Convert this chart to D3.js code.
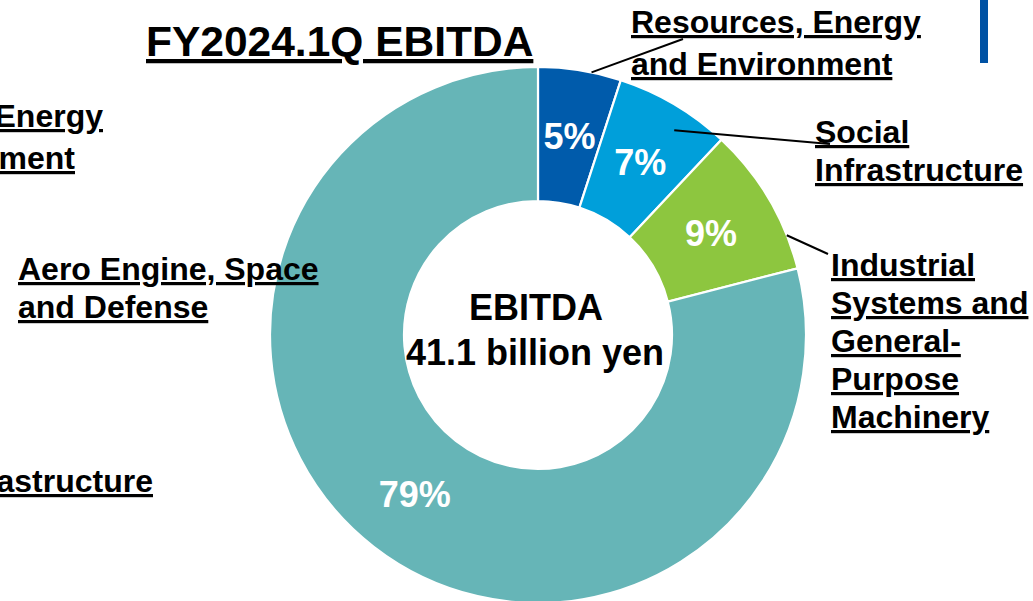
<!DOCTYPE html>
<html>
<head>
<meta charset="utf-8">
<script src="https://cdn.jsdelivr.net/npm/d3@7"></script>
<style>
  html, body { margin: 0; padding: 0; background: #fff; }
  svg { display: block; }
  text { font-family: "Liberation Sans", Arial, sans-serif; font-weight: bold; }
</style>
</head>
<body>
<svg id="chart" width="1033" height="601"></svg>
<script>
// Segment shares of EBITDA (%), clockwise from 12 o'clock
const segments = ["Resources, Energy and Environment", "Social Infrastructure",
                  "Industrial Systems and General-Purpose Machinery", "Aero Engine, Space and Defense"];
const shares = [5, 7, 9, 79];
const colors = ["#005BAB", "#009FDA", "#8DC63F", "#66B5B7"];
const titleText = "FY2024.1Q EBITDA";
const centerLines = ["EBITDA", "41.1 billion yen"];

// Segment name labels, split into lines
const labelLines = [
  ["Resources, Energy", "and Environment"],
  ["Social", "Infrastructure"],
  ["Industrial", "Systems and", "General-", "Purpose", "Machinery"],
  ["Aero Engine, Space", "and Defense"]
];

const svg = d3.select("#chart");
const cx = 538, cy = 335, rOuter = 268, rInner = 134;

// Neighbouring panel: label fragments running off the left edge and accent bar
const edgeLabels = svg.append("g").attr("font-size", 32).attr("fill", "#000")
  .attr("text-anchor", "end").style("text-decoration", "underline");
edgeLabels.append("text").attr("x", 103).attr("y", 127).text(labelLines[0][0]);
edgeLabels.append("text").attr("x", 75).attr("y", 169).text(labelLines[0][1]);
edgeLabels.append("text").attr("x", 153).attr("y", 492).text(labelLines[1][1]);
svg.append("rect").attr("x", 980).attr("y", 0).attr("width", 8).attr("height", 63).attr("fill", "#0052A4");

// Donut
const pie = d3.pie().sort(null).value(d => d);
const arcs = pie(shares);
const arc = d3.arc().innerRadius(rInner).outerRadius(rOuter);
const g = svg.append("g").attr("transform", `translate(${cx},${cy})`);

g.selectAll("path.slice").data(arcs).join("path")
  .attr("class", "slice")
  .attr("d", arc)
  .attr("fill", (d, i) => colors[i])
  .attr("stroke", "#fff")
  .attr("stroke-width", 2.2);

// Percentage labels at slice centroids
g.selectAll("text.pct").data(arcs).join("text")
  .attr("class", "pct")
  .attr("transform", d => { const c = arc.centroid(d); return `translate(${c[0]},${c[1]})`; })
  .attr("text-anchor", "middle")
  .attr("dy", "0.36em")
  .attr("font-size", 36)
  .attr("fill", "#fff")
  .text(d => d.data + "%");

// Centre caption
const cg = svg.append("g").attr("text-anchor", "middle").attr("font-size", 36).attr("fill", "#000");
cg.append("text").attr("x", 536).attr("y", 320).text(centerLines[0]);
cg.append("text").attr("x", 535).attr("y", 365).text(centerLines[1]);

// Title
svg.append("text").attr("x", 146).attr("y", 56).attr("font-size", 42.5)
  .style("text-decoration", "underline").text(titleText);

// Segment labels with leader lines
const labelPos = [
  { x: 631, y: 33, lh: 42, leader: { t: 0.64, r: 268, x2: 683, y2: 39 } },
  { x: 815, y: 143, lh: 38, leader: { t: 0.62, r: 246, x2: 830, y2: 144 } },
  { x: 831, y: 276, lh: 38, leader: { t: 0.77, r: 268, x2: 828, y2: 254 } },
  { x: 18, y: 280, lh: 38, leader: null }
];

labelPos.forEach((p, i) => {
  const t = svg.append("text").attr("font-size", 32).attr("fill", "#000")
    .style("text-decoration", "underline");
  labelLines[i].forEach((line, k) => {
    t.append("tspan").attr("x", p.x).attr("y", p.y + k * p.lh).text(line);
  });
  if (p.leader) {
    const a = arcs[i];
    const ang = a.startAngle + (a.endAngle - a.startAngle) * p.leader.t;
    const x1 = cx + p.leader.r * Math.sin(ang);
    const y1 = cy - p.leader.r * Math.cos(ang);
    svg.append("line").attr("x1", x1).attr("y1", y1)
      .attr("x2", p.leader.x2).attr("y2", p.leader.y2)
      .attr("stroke", "#000").attr("stroke-width", 2);
  }
});
</script>
</body>
</html>
